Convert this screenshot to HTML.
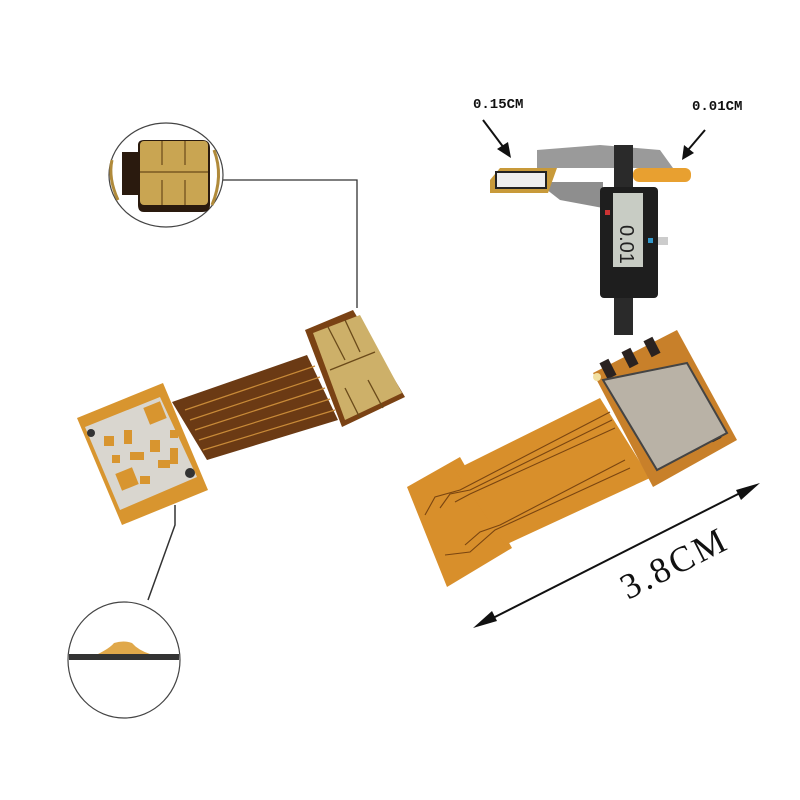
<!DOCTYPE html>
<html><head><meta charset="utf-8"><style>
html,body{margin:0;padding:0;background:#fff;}
svg{display:block}
</style></head><body>
<svg width="800" height="800" viewBox="0 0 800 800" xmlns="http://www.w3.org/2000/svg">
<rect width="800" height="800" fill="#fff"/>
<polyline points="223,180 357,180 357,308" fill="none" stroke="#333" stroke-width="1.3"/>
<polyline points="175,505 175,525 148,600" fill="none" stroke="#333" stroke-width="1.5"/>
<ellipse cx="166" cy="175" rx="57" ry="52" fill="#fff" stroke="#444" stroke-width="1.2"/>
<path d="M122,152 L138,152 L138,145 Q138,140 144,140 L202,140 Q210,140 210,148 L210,205 Q210,212 202,212 L144,212 Q138,212 138,205 L138,195 L122,195 Z" fill="#2a1a0e"/>
<rect x="140" y="141" width="68" height="64" rx="4" fill="#c9a552"/>
<g stroke="#6a4a1a" stroke-width="1.2" fill="none">
<line x1="162" y1="141" x2="162" y2="165"/><line x1="185" y1="141" x2="185" y2="165"/>
<line x1="140" y1="172" x2="208" y2="172"/>
<line x1="162" y1="180" x2="162" y2="205"/><line x1="185" y1="180" x2="185" y2="205"/>
</g>
<path d="M112,160 Q108,178 118,200" stroke="#b08a3a" stroke-width="3" fill="none"/>
<path d="M214,150 Q224,176 212,205" stroke="#b08a3a" stroke-width="3" fill="none"/>
<ellipse cx="124" cy="660" rx="56" ry="58" fill="#fff" stroke="#444" stroke-width="1.2"/>
<rect x="69" y="654" width="110" height="6" fill="#333"/>
<path d="M98,654 Q110,648 114,643 Q124,640 132,643 Q138,650 150,654 Z" fill="#e0a84a"/>
<!-- left card -->
<polygon points="172,402 307,355 338,420 207,460" fill="#6b3a14"/>
<g stroke="#c88a38" stroke-width="1.2">
<line x1="185" y1="410" x2="315" y2="366"/><line x1="190" y1="420" x2="320" y2="377"/>
<line x1="195" y1="430" x2="325" y2="388"/><line x1="199" y1="440" x2="330" y2="399"/>
<line x1="203" y1="450" x2="335" y2="410"/>
</g>
<polygon points="77,418 163,383 208,490 122,525" fill="#d8952f"/>
<polygon points="85,427 160,397 197,477 120,510" fill="#d9d6cf"/>
<g fill="#d8952f">
<rect x="118" y="470" width="18" height="18" transform="rotate(-22 127 479)"/>
<rect x="146" y="404" width="18" height="18" transform="rotate(-22 155 413)"/>
<rect x="104" y="436" width="10" height="10"/><rect x="124" y="430" width="8" height="14"/>
<rect x="130" y="452" width="14" height="8"/><rect x="150" y="440" width="10" height="12"/>
<rect x="158" y="460" width="12" height="8"/><rect x="112" y="455" width="8" height="8"/>
<rect x="170" y="448" width="8" height="16"/><rect x="140" y="476" width="10" height="8"/>
<rect x="170" y="430" width="8" height="8"/>
</g>
<circle cx="91" cy="433" r="4" fill="#333"/><circle cx="190" cy="473" r="5" fill="#333"/>
<polygon points="305,330 353,310 405,397 342,427" fill="#7a4214"/>
<polygon points="313,333 360,315 402,393 345,420" fill="#cdb069"/>
<g stroke="#6a4a1a" stroke-width="1.3" fill="none">
<line x1="328" y1="327" x2="345" y2="360"/><line x1="345" y1="320" x2="360" y2="352"/>
<line x1="330" y1="370" x2="375" y2="352"/>
<line x1="345" y1="388" x2="360" y2="418"/><line x1="368" y1="380" x2="383" y2="408"/>
</g>
<!-- right card -->
<polygon points="407,487 460,457 512,548 447,587" fill="#d88f2b"/>
<polygon points="455,470 600,398 650,478 505,545" fill="#d88f2b"/>
<polygon points="593,373 677,330 737,440 653,487" fill="#c8802a"/>
<g stroke="#7a4510" stroke-width="1.1" fill="none">
<polyline points="425,515 435,497 460,490 610,412"/>
<polyline points="440,508 450,494 470,490 612,420"/>
<polyline points="455,502 470,494 615,428"/>
<polyline points="465,545 480,532 500,525 625,460"/>
<polyline points="445,555 470,552 495,530 630,468"/>
</g>
<g fill="#2a2220">
<rect x="603" y="360" width="10" height="18" transform="rotate(-27 608 369)"/>
<rect x="625" y="349" width="10" height="18" transform="rotate(-27 630 358)"/>
<rect x="647" y="338" width="10" height="18" transform="rotate(-27 652 347)"/>
<rect x="664" y="445" width="10" height="18" transform="rotate(-27 669 454)"/>
<rect x="686" y="434" width="10" height="18" transform="rotate(-27 691 443)"/>
<rect x="708" y="423" width="10" height="18" transform="rotate(-27 713 432)"/>
</g>
<polygon points="603,380 687,363 727,433 657,470" fill="#b9b2a6" stroke="#444" stroke-width="2"/>
<circle cx="597" cy="377" r="4" fill="#f2e0a0"/>
<!-- arrow -->
<line x1="485" y1="622" x2="750" y2="488" stroke="#111" stroke-width="2"/>
<polygon points="473,628 492,611 497,621" fill="#111"/>
<polygon points="760,483 741,500 736,490" fill="#111"/>
<text x="0" y="0" font-family="Liberation Serif, serif" font-size="36" letter-spacing="3" fill="#111" transform="translate(628,600) rotate(-27)">3.8CM</text>
<!-- caliper -->
<polygon points="537,150 600,145 660,150 673,168 537,168" fill="#9a9a9a"/>
<polygon points="537,182 603,182 603,208 560,200" fill="#8e8e8e"/>
<polygon points="490,180 500,168 557,168 548,193 490,193" fill="#c89a3a"/>
<rect x="496" y="172" width="50" height="16" fill="#eee" stroke="#222" stroke-width="2"/>
<rect x="633" y="168" width="58" height="14" rx="6" fill="#e8a030"/>
<rect x="614" y="145" width="19" height="190" fill="#2a2a2a"/>
<rect x="600" y="187" width="58" height="111" rx="4" fill="#1e1e1e"/>
<rect x="613" y="193" width="30" height="74" fill="#c8ccc4"/>
<text x="0" y="0" font-family="Liberation Sans, sans-serif" font-size="20" fill="#222" transform="translate(620,225) rotate(90)">0.01</text>
<rect x="658" y="237" width="10" height="8" fill="#ccc"/>
<rect x="605" y="210" width="5" height="5" fill="#c33"/>
<rect x="648" y="238" width="5" height="5" fill="#39c"/>
<text x="473" y="108" font-family="Liberation Mono, monospace" font-weight="bold" font-size="14" fill="#111">0.15CM</text>
<text x="692" y="110" font-family="Liberation Mono, monospace" font-weight="bold" font-size="14" fill="#111">0.01CM</text>
<line x1="483" y1="120" x2="504" y2="148" stroke="#111" stroke-width="2"/>
<polygon points="511,158 497,149 508,142" fill="#111"/>
<line x1="705" y1="130" x2="688" y2="150" stroke="#111" stroke-width="2"/>
<polygon points="682,160 684,145 694,153" fill="#111"/>
</svg>
</body></html>
